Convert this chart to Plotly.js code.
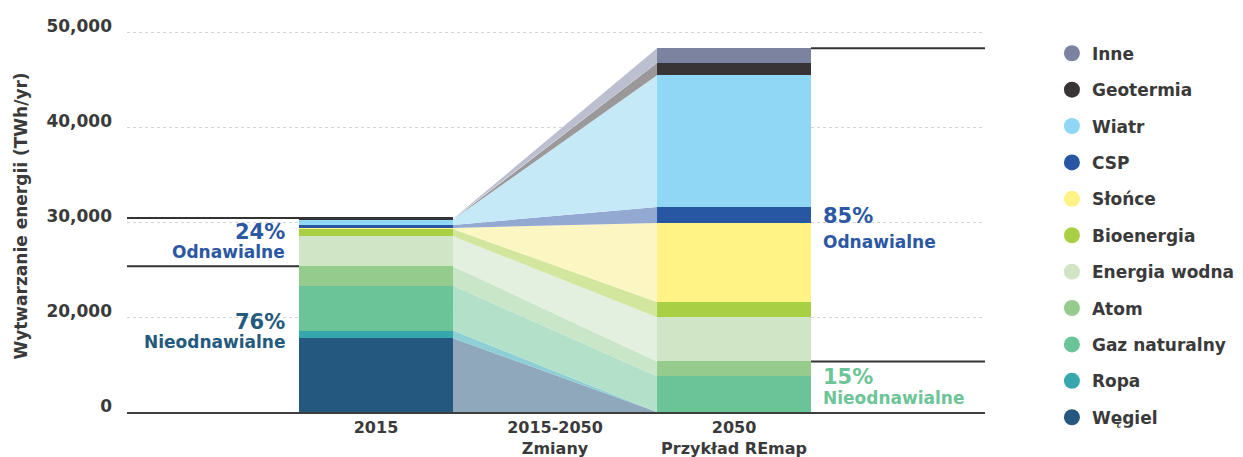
<!DOCTYPE html>
<html><head><meta charset="utf-8">
<script src="https://cdn.plot.ly/plotly-3.0.1.min.js"></script>
<style>html,body{margin:0;padding:0;background:#fff}#chart{width:1243px;height:457px}</style>
</head><body><div id="chart"></div>
<script>
// ---- data (TWh/yr), stacking order bottom -> top ----
const sources   = ['Węgiel','Ropa','Gaz naturalny','Atom','Energia wodna','Bioenergia','Słońce','CSP','Wiatr','Geotermia','Inne'];
const renewable = [false,false,false,false,true,true,true,true,true,true,true];
const gen2015   = [9720,1010,5930,2540,3950,970,130,400,700,100,100];
const gen2050   = [0,0,4720,1940,5840,1980,10420,2110,17370,1620,1940];
const barColors  = ['#24587E','#35A7AD','#6BC497','#95CB8C','#CFE5C6','#A9CF45','#FEF384','#2756A3','#8FD7F5','#383436','#7B83A0'];
const flowColors = ['#8FA8BB','#8CCFD4','#B3E0C9','#C9E6C9','#E3EFDF','#D3E69E','#FCF6C2','#93A9D1','#C6E9F8','#9A9899','#BCBFD0'];
const categories = ['2015','2015-2050<br>Zmiany','2050<br>Przykład REmap'];
const yTickVals  = [0,12500,25000,37500,50000];
const yTickText  = ['0','20,000','30,000','40,000','50,000'];
const shareText2015 = ['24%','Odnawialne','76%','Nieodnawialne'];
const shareText2050 = ['85%','Odnawialne','15%','Nieodnawialne'];

const FONT = 'DejaVu Sans';
const TXT = '#3a3a3a';
const BLUE = '#2B57A3', DARK = '#245A7E', GREEN = '#6CC497';
const BW = 0.86;             // bar width in category units
const XR = [-1.391, 3.402];  // x range
const x1 = 0 + BW/2, x2 = 2 - BW/2;

const sum = a => a.reduce((s,v)=>s+v,0);
const cum = a => { let c=0; return a.map(v => (c+=v)); };
const top15 = cum(gen2015), top50 = cum(gen2050);
const tot15 = sum(gen2015), tot50 = sum(gen2050);
const nonRen15 = sum(gen2015.filter((v,i)=>!renewable[i]));
const nonRen50 = sum(gen2050.filter((v,i)=>!renewable[i]));

const traces = [];
// transition bands
sources.forEach((s,i)=>{
  const b15 = top15[i]-gen2015[i], b50 = top50[i]-gen2050[i];
  traces.push({type:'scatter', mode:'lines', x:[x1,x2,x2,x1,x1], y:[b15,b50,top50[i],top15[i],b15],
    fill:'toself', fillcolor:flowColors[i], line:{width:0,color:flowColors[i]}, hoverinfo:'skip', showlegend:false});
});
// bars
sources.forEach((s,i)=>{
  traces.push({type:'bar', x:[0,2], y:[gen2015[i],gen2050[i]], width:BW, name:s,
    marker:{color:barColors[i], line:{width:0}}, showlegend:false, hovertemplate:s+': %{y:,} TWh<extra></extra>'});
});
// legend entries (top -> bottom)
for (let i = sources.length-1; i >= 0; i--) {
  traces.push({type:'scatter', mode:'markers', x:[null], y:[null], name:sources[i], legendgroup:'g'+i,
    marker:{size:18, color:barColors[i], symbol:'circle'}, showlegend:true});
}

const lineStyle = {color:'#333', width:2};
const shapes = [
  {type:'line', xref:'x', yref:'y', x0:XR[0], x1:x1, y0:tot15, y1:tot15, line:lineStyle},
  {type:'line', xref:'x', yref:'y', x0:XR[0], x1:-BW/2, y0:nonRen15, y1:nonRen15, line:lineStyle},
  {type:'line', xref:'x', yref:'y', x0:2+BW/2, x1:XR[1], y0:tot50, y1:tot50, line:lineStyle},
  {type:'line', xref:'x', yref:'y', x0:2+BW/2, x1:XR[1], y0:nonRen50, y1:nonRen50, line:lineStyle},
];

const ann = (x,y,text,size,color,anchor) => ({x, y, xref:'x', yref:'y', text, showarrow:false, xanchor:anchor, yanchor:'middle',
  font:{family:FONT, size, color, weight:'bold'}});
const annotations = [
  ann(-0.50, 23690, shareText2015[0], 21, BLUE, 'right'),
  ann(-0.50, 21050, shareText2015[1], 17, BLUE, 'right'),
  ann(-0.50, 11830, shareText2015[2], 21, DARK, 'right'),
  ann(-0.50,  9200, shareText2015[3], 17, DARK, 'right'),
  ann(2.485, 25800, shareText2050[0], 21, BLUE, 'left'),
  ann(2.485, 22370, shareText2050[1], 17, BLUE, 'left'),
  ann(2.485,  4585, shareText2050[2], 21, GREEN, 'left'),
  ann(2.485,  1870, shareText2050[3], 17, GREEN, 'left'),
];

const layout = {
  width:1243, height:457,
  margin:{l:127, r:258, t:20, b:45, autoexpand:false},
  paper_bgcolor:'#fff', plot_bgcolor:'#fff',
  barmode:'stack', bargap:0,
  showlegend:true,
  font:{family:FONT, color:TXT, weight:'bold'},
  xaxis:{range:XR, tickvals:[0,1,2], ticktext:categories, showgrid:false, zeroline:false,
    showline:true, linecolor:'#3d3d3d', linewidth:2, ticks:'', fixedrange:true,
    tickfont:{family:FONT, size:16, color:TXT, weight:'bold'}},
  yaxis:{range:[0,51650], tickvals:yTickVals, ticktext:yTickText, showgrid:true, gridcolor:'#d4d4d4', griddash:'dot', gridwidth:1,
    zeroline:false, showline:false, ticks:'', ticklabelstandoff:14, ticklabelshift:-6,
    tickfont:{family:FONT, size:17, color:TXT, weight:'bold'},
    title:{text:'Wytwarzanie energii (TWh/yr)', standoff:14, font:{family:FONT, size:17, color:TXT, weight:'bold'}}},
  legend:{x:1.078, xanchor:'left', y:0.96, yanchor:'top', tracegroupgap:11.3, traceorder:'grouped',
    font:{family:FONT, size:17, color:TXT, weight:'bold'}, bgcolor:'rgba(0,0,0,0)'},
  shapes, annotations
};
Plotly.newPlot('chart', traces, layout, {displayModeBar:false, staticPlot:true});
</script></body></html>
